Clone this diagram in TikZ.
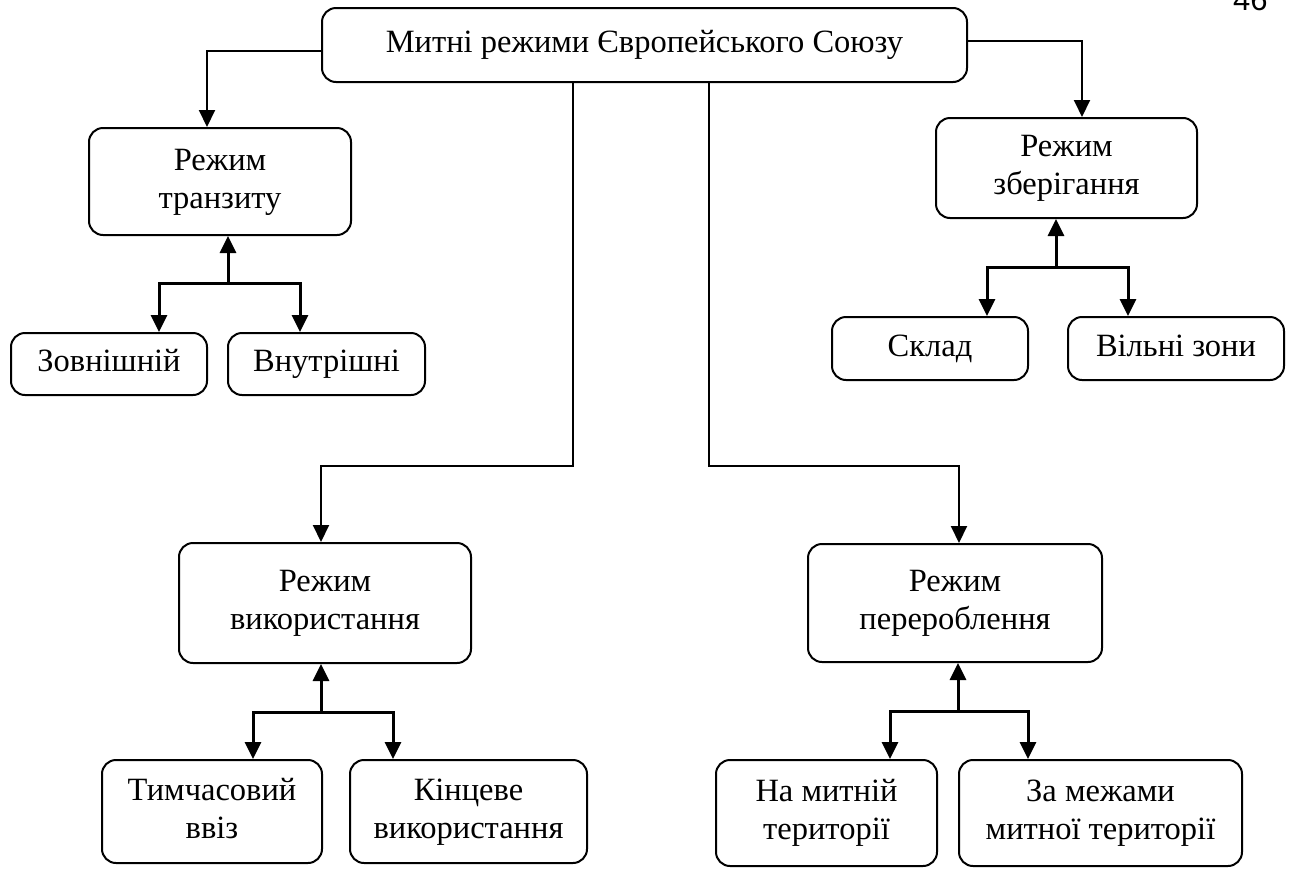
\documentclass[tikz,border=0pt]{standalone}
\usepackage{fontspec}
\setmainfont{Liberation Serif}
\newfontfamily\numfont{Liberation Sans}
\usetikzlibrary{arrows.meta,calc}
\tikzset{
  box/.style={draw, line width=2pt, rounded corners=14pt, inner sep=0pt, align=center},
  conn/.style={line width=2pt, -{Triangle[width=16pt,length=17pt]}},
  br/.style={line width=3pt, line join=miter, -{Triangle[width=16pt,length=17pt]}},
}
\begin{document}
\begin{tikzpicture}[x=1pt,y=-1pt,font=\fontsize{32.5}{38}\selectfont]
\useasboundingbox (0,0) rectangle (1291,868);
% page number (cut at top)
\node[font=\numfont\fontsize{31}{36}\selectfont, anchor=base west, inner sep=0pt] (pg) at (1233,10) {46};
% boxes
\node[box, minimum width=645pt, minimum height=74pt] (top) at (644.5,45) {\strut Митні режими Європейського Союзу};
\node[box, minimum width=262pt, minimum height=107pt] (transit) at (220,181.5) {\strut Режим\\\strut транзиту};
\node[box, minimum width=196pt, minimum height=62pt] (ext) at (109,364) {\strut Зовнішній};
\node[box, minimum width=197pt, minimum height=62pt] (int) at (326.5,364) {\strut Внутрішні};
\node[box, minimum width=261pt, minimum height=100pt] (store) at (1066.5,168) {\strut Режим\\\strut зберігання};
\node[box, minimum width=196pt, minimum height=63pt] (wh) at (930,348.5) {\strut Склад};
\node[box, minimum width=216pt, minimum height=63pt] (fz) at (1176,348.5) {\strut Вільні зони};
\node[box, minimum width=292pt, minimum height=120pt] (use) at (325,603) {\strut Режим\\\strut використання};
\node[box, minimum width=220pt, minimum height=103pt] (temp) at (212,811.5) {\strut Тимчасовий\\\strut ввіз};
\node[box, minimum width=237pt, minimum height=103pt] (fin) at (468.5,811.5) {\strut Кінцеве\\\strut використання};
\node[box, minimum width=294pt, minimum height=118pt] (proc) at (955,603) {\strut Режим\\\strut перероблення};
\node[box, minimum width=221pt, minimum height=106pt] (on) at (826.5,813) {\strut На митній\\\strut території};
\node[box, minimum width=283pt, minimum height=106pt] (off) at (1100.5,813) {\strut За межами\\\strut митної території};
% top-level connectors
\draw[conn] ($(top.west)+(0,6)$) -| ($(transit.north)+(-13,0)$);
\draw[conn] ($(top.east)+(0,-4)$) -| ($(store.north)+(15.5,0)$);
\coordinate (m1) at (572.5,466);
\coordinate (m2) at (709,466);
\draw[conn] (top.south -| m1) -- (m1) -| ($(use.north)+(-4,0)$);
\draw[conn] (top.south -| m2) -- (m2) -| ($(proc.north)+(4,0)$);
% branch: transit
\coordinate (jt) at (228,283);
\draw[br] (jt) -- (jt |- transit.south);
\draw[br] (jt) -| ($(ext.north)+(50,0)$);
\draw[br] (jt) -| ($(int.north)+(-26.5,0)$);
% branch: storage
\coordinate (js) at (1056,267);
\draw[br] (js) -- (js |- store.south);
\draw[br] (js) -| ($(wh.north)+(57,0)$);
\draw[br] (js) -| ($(fz.north)+(-48,0)$);
% branch: use
\coordinate (ju) at (321,712);
\draw[br] (ju) -- (ju |- use.south);
\draw[br] (ju) -| ($(temp.north)+(41,0)$);
\draw[br] (ju) -| ($(fin.north)+(-75.5,0)$);
% branch: processing
\coordinate (jp) at (958,711);
\draw[br] (jp) -- (jp |- proc.south);
\draw[br] (jp) -| ($(on.north)+(63.5,0)$);
\draw[br] (jp) -| ($(off.north)+(-72.5,0)$);
\end{tikzpicture}
\end{document}
